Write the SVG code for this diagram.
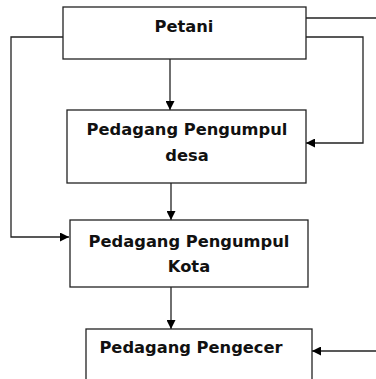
<svg xmlns="http://www.w3.org/2000/svg" width="376" height="379" viewBox="0 0 376 379">
<defs>
<marker id="ah" viewBox="0 0 10 10" refX="10" refY="5" markerWidth="9" markerHeight="9" markerUnits="userSpaceOnUse" orient="auto">
<path d="M0,0 L10,5 L0,10 Z" fill="#000"/>
</marker>
</defs>
<style>
.box{fill:#fff;stroke:#222;stroke-width:1.3}
.lbl{font-family:"DejaVu Sans",Verdana,sans-serif;font-weight:bold;font-size:16.3px;fill:#111}
.c{fill:none;stroke:#222;stroke-width:1.3}
</style>
<rect width="376" height="379" fill="#fff"/>
<g id="connectors">
<path class="c" d="M170,59 V110" marker-end="url(#ah)"/>
<path class="c" d="M171,183 V220" marker-end="url(#ah)"/>
<path class="c" d="M171,287 V329" marker-end="url(#ah)"/>
<path class="c" d="M63,37 H11 V237 H69" marker-end="url(#ah)"/>
<path class="c" d="M306,37 H363 V143 H306" marker-end="url(#ah)"/>
<path class="c" d="M306,18 H376"/>
<path class="c" d="M376,351 H312" marker-end="url(#ah)"/>
</g>
<g id="petani">
<rect class="box" x="63" y="7" width="243" height="52"/>
<text class="lbl" x="184" y="32" text-anchor="middle">Petani</text>
</g>
<g id="pengumpul-desa">
<rect class="box" x="67" y="110" width="239" height="73"/>
<text class="lbl" x="187" y="135" text-anchor="middle">Pedagang Pengumpul</text>
<text class="lbl" x="187" y="161" text-anchor="middle">desa</text>
</g>
<g id="pengumpul-kota">
<rect class="box" x="70" y="220" width="238" height="67"/>
<text class="lbl" x="189" y="247" text-anchor="middle">Pedagang Pengumpul</text>
<text class="lbl" x="189" y="272" text-anchor="middle">Kota</text>
</g>
<g id="pengecer">
<rect class="box" x="86" y="329" width="226" height="56"/>
<text class="lbl" x="191" y="353" text-anchor="middle">Pedagang Pengecer</text>
</g>
</svg>
